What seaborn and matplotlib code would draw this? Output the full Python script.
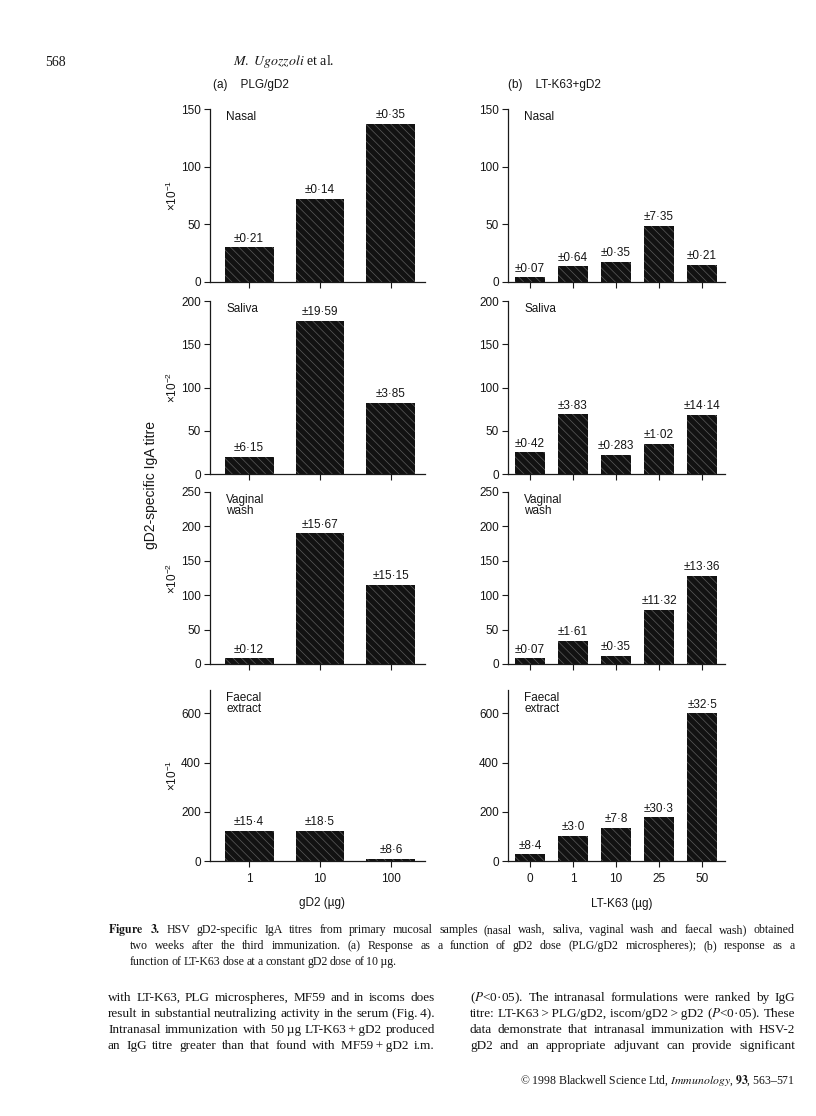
import matplotlib
matplotlib.use('Agg')
import matplotlib.pyplot as plt
import seaborn as sns

# doses on the x axes
gd2_doses = ['1', '10', '100']
ltk63_doses = ['0', '1', '10', '25', '50']

# one row per mucosal sample
samples = ['Nasal', 'Saliva', 'Vaginal\nwash', 'Faecal\nextract']
scale_powers = ['1', '2', '2', '1']
y_tops = [150, 200, 250, 695]
y_ticks = [[0, 50, 100, 150], [0, 50, 100, 150, 200],
           [0, 50, 100, 150, 200, 250], [0, 200, 400, 600]]

# (a) PLG/gD2 - titres
plg_nasal = [30, 72, 137]
plg_saliva = [20, 177, 82]
plg_vaginal = [8, 190, 115]
plg_faecal = [122, 122, 8]
plg_nasal_sd = ['±0·21', '±0·14', '±0·35']
plg_saliva_sd = ['±6·15', '±19·59', '±3·85']
plg_vaginal_sd = ['±0·12', '±15·67', '±15·15']
plg_faecal_sd = ['±15·4', '±18·5', '±8·6']

# (b) LT-K63 + gD2
ltk_nasal = [4, 13.5, 17.5, 48.5, 15]
ltk_saliva = [25, 69, 22, 35, 68]
ltk_vaginal = [8, 34, 12, 79, 128]
ltk_faecal = [27, 101, 134, 177, 600]
ltk_nasal_sd = ['±0·07', '±0·64', '±0·35', '±7·35', '±0·21']
ltk_saliva_sd = ['±0·42', '±3·83', '±0·283', '±1·02', '±14·14']
ltk_vaginal_sd = ['±0·07', '±1·61', '±0·35', '±11·32', '±13·36']
ltk_faecal_sd = ['±8·4', '±3·0', '±7·8', '±30·3', '±32·5']

plg_values = [plg_nasal, plg_saliva, plg_vaginal, plg_faecal]
plg_sds = [plg_nasal_sd, plg_saliva_sd, plg_vaginal_sd, plg_faecal_sd]
ltk_values = [ltk_nasal, ltk_saliva, ltk_vaginal, ltk_faecal]
ltk_sds = [ltk_nasal_sd, ltk_saliva_sd, ltk_vaginal_sd, ltk_faecal_sd]

sns.set_style('ticks')
plt.rcParams['font.family'] = ['Liberation Sans', 'DejaVu Sans']
plt.rcParams['mathtext.fontset'] = 'custom'
plt.rcParams['mathtext.rm'] = 'Liberation Sans'
plt.rcParams['mathtext.it'] = 'Liberation Sans:italic'
plt.rcParams['mathtext.bf'] = 'Liberation Sans:bold'
plt.rcParams['hatch.linewidth'] = 0.5
plt.rcParams['text.color'] = '#151515'

W, H = 816, 1116
fig = plt.figure(figsize=(W / 100, H / 100), dpi=100)
fig.patch.set_facecolor('white')


def box(x0, x1, top, bottom):
    return [x0 / W, 1 - bottom / H, (x1 - x0) / W, (bottom - top) / H]


rows = [(109, 282), (301, 474), (492, 664), (690, 861)]
FS = 8.5


def draw_panel(ax, doses, values, sds, row, xlim, first_col):
    sns.barplot(x=doses, y=values, order=doses, color='#121212', saturation=1,
                width=0.69, edgecolor='#5c5c5c', linewidth=0,
                hatch='\\\\\\\\', ax=ax)
    ax.set_xlim(*xlim)
    ax.set_ylim(0, y_tops[row])
    ax.set_yticks(y_ticks[row])
    ax.set_xlabel('')
    ax.set_ylabel('')
    sns.despine(ax=ax)
    for s in ['left', 'bottom']:
        ax.spines[s].set_linewidth(0.9)
        ax.spines[s].set_color('#1a1a1a')
    ax.tick_params(direction='out', length=4.5, width=0.8, labelsize=FS,
                   pad=2, color='#1a1a1a', labelcolor='#151515')
    ax.tick_params(axis='x', pad=4)
    if row < 3:
        ax.tick_params(axis='x', labelbottom=False)
    ax.bar_label(ax.containers[0], labels=sds, padding=2, fontsize=FS)
    ax.text(0.075, 0.99, samples[row], transform=ax.transAxes, va='top',
            ha='left', fontsize=FS, linespacing=0.95)
    if first_col:
        ax.text(-0.175, 0.5, r'$\times10^{-' + scale_powers[row] + '}$',
                transform=ax.transAxes, rotation=90, ha='center',
                va='center', fontsize=FS)


for i, (top, bottom) in enumerate(rows):
    ax_a = fig.add_axes(box(210, 425, top, bottom))
    draw_panel(ax_a, gd2_doses, plg_values[i], plg_sds[i], i, (-0.55, 2.48), True)
    ax_b = fig.add_axes(box(508, 725, top, bottom))
    draw_panel(ax_b, ltk63_doses, ltk_values[i], ltk_sds[i], i, (-0.51, 4.53), False)
    if i == 3:
        ax_a.text(0.521, -0.245, 'gD2 (µg)', transform=ax_a.transAxes,
                  ha='center', va='center', fontsize=FS)
        ax_b.text(0.525, -0.253, 'LT-K63 (µg)', transform=ax_b.transAxes,
                  ha='center', va='center', fontsize=FS)

fig.text(213 / W, 1 - 85 / H, '(a)    PLG/gD2', fontsize=FS, va='center')
fig.text(508 / W, 1 - 85 / H, '(b)    LT-K63+gD2', fontsize=FS, va='center')
fig.text(151 / W, 1 - 485 / H, 'gD2-specific IgA titre', rotation=90,
         ha='center', va='center', fontsize=10)

# page text around the figure
serif = ['Liberation Serif', 'DejaVu Serif']
fig.text(45 / W, 1 - 62 / H, '568', fontsize=10, family=serif, va='center')
fig.text(233 / W, 1 - 62 / H, r'$\mathit{M.\ Ugozzoli}$ et al.', fontsize=10,
         family=serif, math_fontfamily='stix', va='center')

caption = [
    '$\\mathbf{Figure}$ $\\mathbf{3.}$ HSV gD2-specific IgA titres from primary mucosal samples (nasal wash, saliva, vaginal wash and faecal wash) obtained',
    'two weeks after the third immunization. (a) Response as a function of gD2 dose (PLG/gD2 microspheres); (b) response as a',
    'function of LT-K63 dose at a constant gD2 dose of 10~µg.',
]
body_left = [
    'with LT-K63, PLG microspheres, MF59 and in iscoms does',
    'result in substantial neutralizing activity in the serum (Fig.~4).',
    'Intranasal immunization with 50~µg LT-K63~+~gD2 produced',
    'an IgG titre greater than that found with MF59~+~gD2 i.m.',
]
body_right = [
    '($\\mathit{P}$<0·05). The intranasal formulations were ranked by IgG',
    'titre: LT-K63~>~PLG/gD2, iscom/gD2~>~gD2 ($\\mathit{P}$<0·05). These',
    'data demonstrate that intranasal immunization with HSV-2',
    'gD2 and an appropriate adjuvant can provide significant',
]

renderer = fig.canvas.get_renderer()


def put_line(line, x0, x1, y, size, justify):
    words = [w.replace('~', '\u2009') for w in line.split(' ')]
    texts = [fig.text(0, 1 - y / H, w, fontsize=size, family=serif,
                      math_fontfamily='stix', va='baseline') for w in words]
    widths = [t.get_window_extent(renderer).width for t in texts]
    gap = size * 0.26
    if justify and len(words) > 1:
        gap = (x1 - x0 - sum(widths)) / (len(words) - 1)
    x = x0
    for t, w in zip(texts, widths):
        t.set_x(x / W)
        x += w + gap


cap_y = [933, 949, 965]
put_line(caption[0], 108, 795, cap_y[0], 8.6, True)
put_line(caption[1], 130, 795, cap_y[1], 8.6, True)
put_line(caption[2], 130, 795, cap_y[2], 8.6, False)

body_y = [1001, 1017, 1033, 1049]
for line, y in zip(body_left, body_y):
    put_line(line, 108, 435, y, 9.5, True)
for line, y in zip(body_right, body_y):
    put_line(line, 470, 795, y, 9.5, True)

fig.text(795 / W, 1 - 1084 / H,
         r'© 1998 Blackwell Science Ltd, $\mathit{Immunology}$, $\mathbf{93}$, 563–571',
         fontsize=8.5, family=serif, math_fontfamily='stix', ha='right',
         va='baseline')

fig.savefig('out.png', dpi=100, facecolor='white')
